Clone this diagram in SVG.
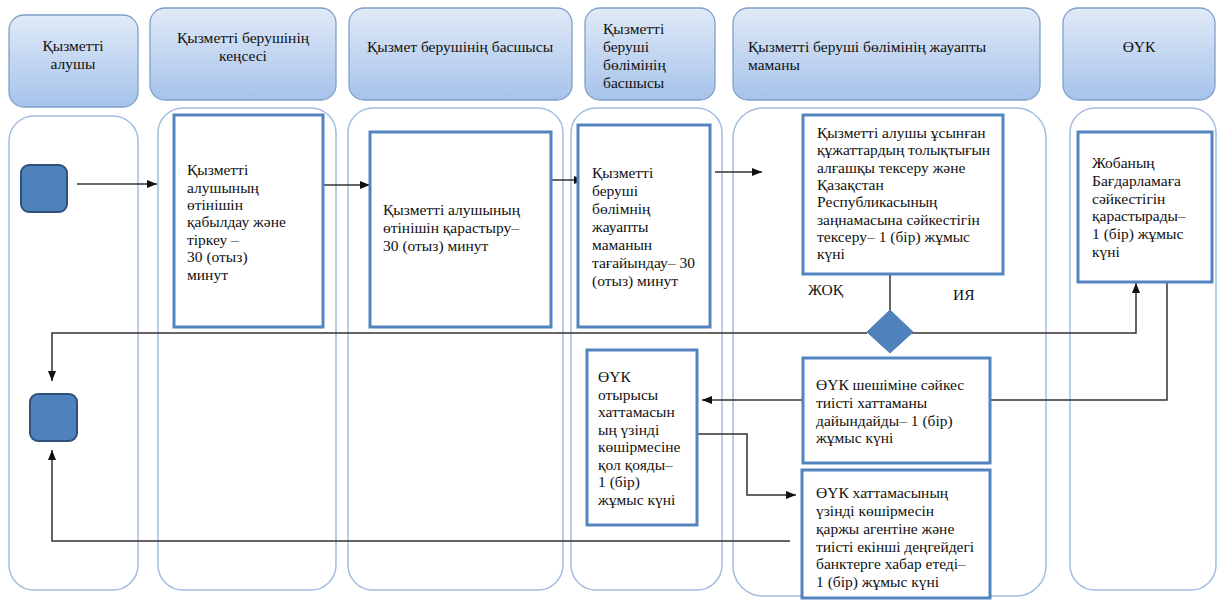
<svg xmlns="http://www.w3.org/2000/svg" width="1222" height="601" viewBox="0 0 1222 601">
<defs>
<linearGradient id="hg" x1="0" y1="0" x2="0" y2="1">
<stop offset="0" stop-color="#e0eaf7"/>
<stop offset="1" stop-color="#a6c3eb"/>
</linearGradient>
<marker id="ah" markerWidth="10" markerHeight="8" refX="10" refY="4" orient="auto" markerUnits="userSpaceOnUse">
<path d="M0,0 L10,4 L0,8 z" fill="#111"/>
</marker>
</defs>
<style>
.hdr{fill:url(#hg);stroke:#7f9fc9;stroke-width:1.3}
.lane{fill:none;stroke:#a3bddf;stroke-width:1.5}
.box{fill:#fff;stroke:#5384c0;stroke-width:3}
.term{fill:#4f81bd;stroke:#2f507a;stroke-width:2}
.t{font-family:"Liberation Serif","DejaVu Serif","Times New Roman",serif;font-size:15.5px;fill:#111}
.c{text-anchor:middle}
.cn{fill:none;stroke:#333;stroke-width:1.5}
</style>
<rect width="1222" height="601" fill="#fff"/>

<g id="lanes">
<rect class="lane" x="9" y="116" width="129" height="474" rx="25"/>
<rect class="lane" x="158" y="108" width="178" height="482" rx="25"/>
<rect class="lane" x="348" y="108" width="215" height="482" rx="25"/>
<rect class="lane" x="571" y="108" width="151" height="482" rx="25"/>
<rect class="lane" x="733" y="108" width="313" height="488" rx="30"/>
<rect class="lane" x="1070" y="108" width="146" height="482" rx="25"/>
</g>

<g id="header1"><rect class="hdr" x="9" y="15" width="129" height="92" rx="15"/>
<text class="t c" x="73" y="51">Қызметті</text><text class="t c" x="73" y="69">алушы</text></g>
<g id="header2"><rect class="hdr" x="150" y="8" width="186" height="92" rx="15"/>
<text class="t c" x="243" y="43">Қызметті берушінің</text><text class="t c" x="243" y="61">кеңсесі</text></g>
<g id="header3"><rect class="hdr" x="349" y="8" width="223" height="92" rx="15"/>
<text class="t c" x="460" y="52">Қызмет берушінің басшысы</text></g>
<g id="header4"><rect class="hdr" x="585" y="8" width="130" height="92" rx="15"/>
<text class="t" x="603" y="34">Қызметті</text><text class="t" x="603" y="52">беруші</text><text class="t" x="603" y="70">бөлімінің</text><text class="t" x="603" y="88">басшысы</text></g>
<g id="header5"><rect class="hdr" x="733" y="8" width="307" height="92" rx="15"/>
<text class="t" x="748" y="52">Қызметті беруші бөлімінің жауапты</text><text class="t" x="748" y="70">маманы</text></g>
<g id="header6"><rect class="hdr" x="1063" y="8" width="152" height="92" rx="15"/>
<text class="t c" x="1139" y="52">ӨҮК</text></g>

<g id="connectors">
<path class="cn" d="M77,184 H157" marker-end="url(#ah)"/>
<path class="cn" d="M323,185 H370" marker-end="url(#ah)"/>
<path class="cn" d="M551,180 H584" marker-end="url(#ah)"/>
<path class="cn" d="M715,172 H762" marker-end="url(#ah)"/>
<path class="cn" d="M890,274 V310"/>
<path class="cn" d="M867,333 H52 V381" marker-end="url(#ah)"/>
<path class="cn" d="M912,333 H1136 V283" marker-end="url(#ah)"/>
<path class="cn" d="M990,400 H1167 V282"/>
<path class="cn" d="M803,400 H702" marker-end="url(#ah)"/>
<path class="cn" d="M697,434 H747 V495 H796" marker-end="url(#ah)"/>
<path class="cn" d="M790,541 H52 V450" marker-end="url(#ah)"/>
</g>

<g id="start"><rect class="term" x="21" y="165" width="46" height="47" rx="8"/></g>
<g id="end"><rect class="term" x="30" y="394" width="47" height="47" rx="8"/></g>

<g id="box1"><rect class="box" x="174" y="115" width="149" height="212"/>
<text class="t" x="187" y="175">Қызметті</text><text class="t" x="187" y="193">алушының</text><text class="t" x="187" y="210">өтінішін</text><text class="t" x="187" y="227">қабылдау және</text><text class="t" x="187" y="245">тіркеу –</text><text class="t" x="187" y="262">30 (отыз)</text><text class="t" x="187" y="280">минут</text></g>

<g id="box2"><rect class="box" x="370" y="132" width="181" height="195"/>
<text class="t" x="383" y="215">Қызметті алушының</text><text class="t" x="383" y="233">өтінішін қарастыру–</text><text class="t" x="383" y="251">30 (отыз) минут</text></g>

<g id="box3"><rect class="box" x="578" y="125" width="132" height="202"/>
<text class="t" x="592" y="178">Қызметті</text><text class="t" x="592" y="196">беруші</text><text class="t" x="592" y="214">бөлімнің</text><text class="t" x="592" y="232">жауапты</text><text class="t" x="592" y="250">маманын</text><text class="t" x="592" y="268">тағайындау– 30</text><text class="t" x="592" y="286">(отыз) минут</text></g>

<g id="box4"><rect class="box" x="803" y="115" width="200" height="159"/>
<text class="t" x="817" y="138">Қызметті алушы ұсынған</text><text class="t" x="817" y="155">құжаттардың толықтығын</text><text class="t" x="817" y="173">алғашқы тексеру және</text><text class="t" x="817" y="190">Қазақстан</text><text class="t" x="817" y="207">Республикасының</text><text class="t" x="817" y="225">заңнамасына сәйкестігін</text><text class="t" x="817" y="242">тексеру– 1 (бір) жұмыс</text><text class="t" x="817" y="259">күні</text></g>

<g id="box5"><rect class="box" x="1078" y="132" width="134" height="150"/>
<text class="t" x="1092" y="168">Жобаның</text><text class="t" x="1092" y="186">Бағдарламаға</text><text class="t" x="1092" y="204">сәйкестігін</text><text class="t" x="1092" y="221">қарастырады–</text><text class="t" x="1092" y="239">1 (бір) жұмыс</text><text class="t" x="1092" y="257">күні</text></g>

<g id="decision"><path d="M890,310 L913,332 L890,353 L867,332 z" fill="#4f81bd" stroke="#4a7bb5" stroke-width="1"/>
<text class="t" x="808" y="295">ЖОҚ</text><text class="t" x="953" y="300">ИЯ</text></g>

<g id="box6"><rect class="box" x="803" y="358" width="187" height="105"/>
<text class="t" x="816" y="390">ӨҮК шешіміне сәйкес</text><text class="t" x="816" y="408">тиісті хаттаманы</text><text class="t" x="816" y="426">дайындайды– 1 (бір)</text><text class="t" x="816" y="443">жұмыс күні</text></g>

<g id="box7"><rect class="box" x="587" y="350" width="110" height="175"/>
<text class="t" x="598" y="382">ӨҮК</text><text class="t" x="598" y="400">отырысы</text><text class="t" x="598" y="417">хаттамасын</text><text class="t" x="598" y="435">ың үзінді</text><text class="t" x="598" y="452">көшірмесіне</text><text class="t" x="598" y="470">қол қояды–</text><text class="t" x="598" y="487">1 (бір)</text><text class="t" x="598" y="505">жұмыс күні</text></g>

<g id="box8"><rect class="box" x="802" y="470" width="188" height="128"/>
<text class="t" x="816" y="498">ӨҮК хаттамасының</text><text class="t" x="816" y="516">үзінді көшірмесін</text><text class="t" x="816" y="534">қаржы агентіне және</text><text class="t" x="816" y="552">тиісті екінші деңгейдегі</text><text class="t" x="816" y="569">банктерге хабар етеді–</text><text class="t" x="816" y="587">1 (бір) жұмыс күні</text></g>
</svg>
